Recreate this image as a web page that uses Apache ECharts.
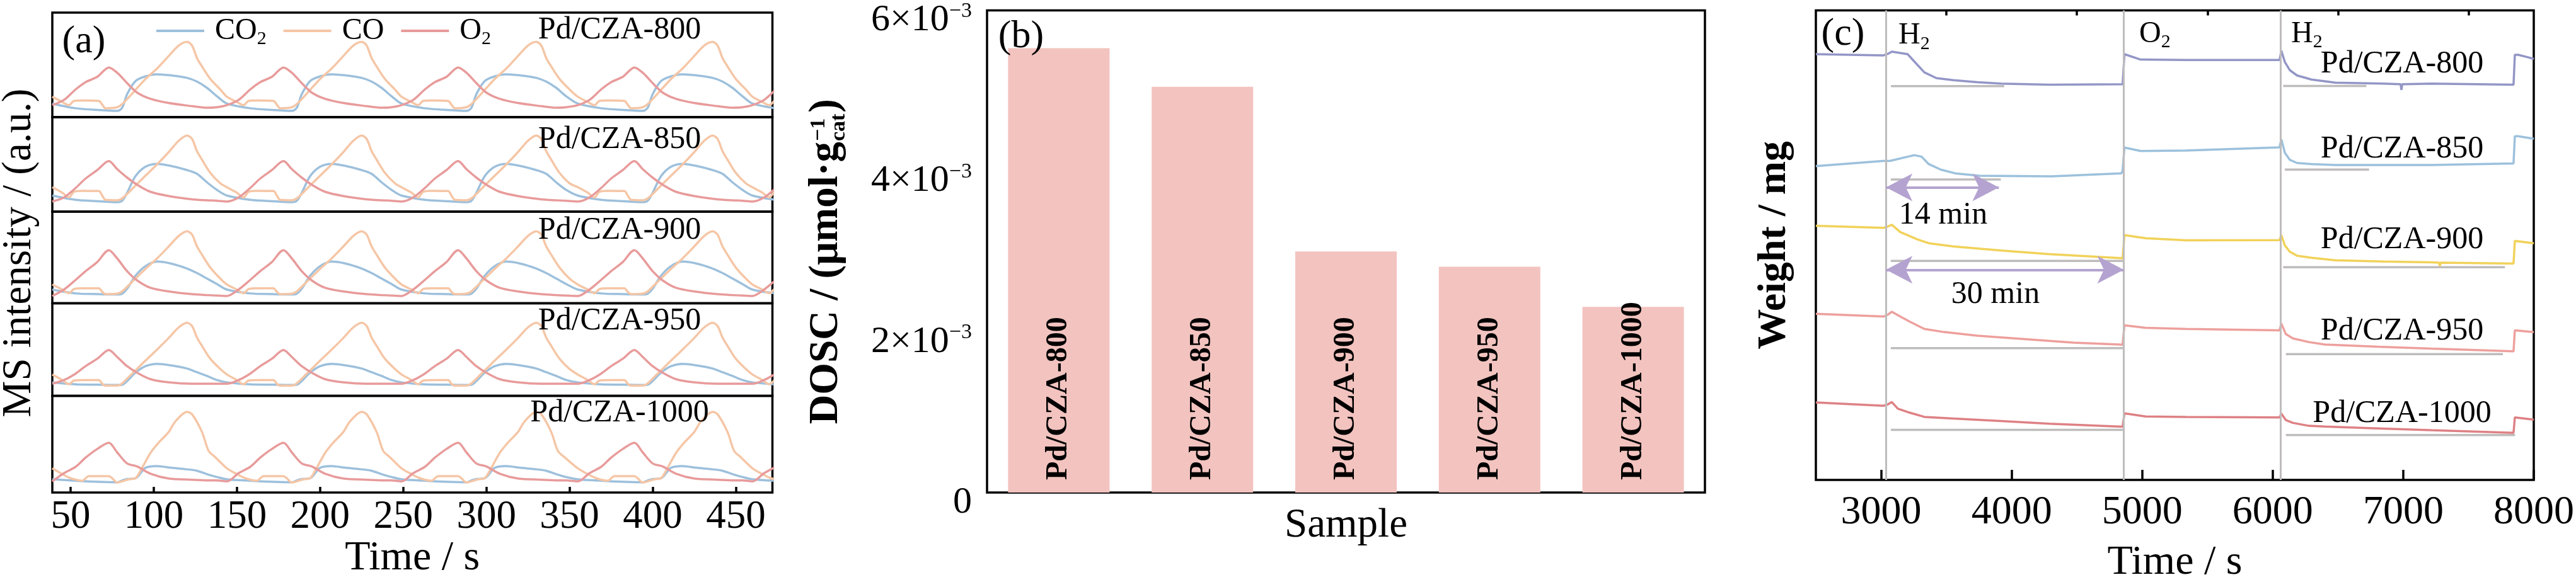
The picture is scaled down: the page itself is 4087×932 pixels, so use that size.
<!DOCTYPE html>
<html>
<head>
<meta charset="utf-8">
<script src="https://cdn.jsdelivr.net/npm/echarts@6/dist/echarts.min.js"></script>
<style>
html, body { margin: 0; padding: 0; background: #fff; }
#chart { width: 4087px; height: 932px; }
</style>
</head>
<body>
<div id="chart"></div>
<script>
// ---------- panel (a): MS signals during the redox pulses ----------
const timeTicksA = [50, 100, 150, 200, 250, 300, 350, 400, 450];

const timeO2 = [
    39, 46, 53, 59, 66, 73, 78, 84, 90, 98, 109, 123, 132, 138,
    144, 151, 158, 164, 171, 178, 183, 189, 195, 203, 214, 228, 237, 243,
    249, 256, 263, 269, 276, 283, 288, 294, 300, 308, 319, 333, 342, 348,
    355, 362, 369, 375, 382, 389, 394, 400, 406, 414, 425, 439, 448, 454,
    460, 467, 474
];
const o2_800 = [
    11.5, 16.5, 26.5, 33.5, 38.5, 47.5, 42.5, 32.5, 23.5, 17.5, 13.5, 10.5, 9, 9.5,
    11.5, 16.5, 26.5, 33.5, 38.5, 47.5, 42.5, 32.5, 23.5, 17.5, 13.5, 10.5, 9, 9.5,
    11.5, 16.5, 26.5, 33.5, 38.5, 47.5, 42.5, 32.5, 23.5, 17.5, 13.5, 10.5, 9, 9.5,
    11.5, 16.5, 26.5, 33.5, 38.5, 47.5, 42.5, 32.5, 23.5, 17.5, 13.5, 10.5, 9, 9.5,
    11.5, 16.5, 26.5
];
const o2_850 = [
    10.7, 15, 25, 35, 44, 53.5, 45, 36, 28.5, 21, 16.5, 13, 12, 11.5,
    10.7, 15, 25, 35, 44, 53.5, 45, 36, 28.5, 21, 16.5, 13, 12, 11.5,
    10.7, 15, 25, 35, 44, 53.5, 45, 36, 28.5, 21, 16.5, 13, 12, 11.5,
    10.7, 15, 25, 35, 44, 53.5, 45, 36, 28.5, 21, 16.5, 13, 12, 11.5,
    10.7, 15, 25
];
const o2_900 = [
    8, 15, 25.5, 35, 45, 58, 49, 35, 25, 17, 13, 10, 9, 8.5,
    8, 15, 25.5, 35, 45, 58, 49, 35, 25, 17, 13, 10, 9, 8.5,
    8, 15, 25.5, 35, 45, 58, 49, 35, 25, 17, 13, 10, 9, 8.5,
    8, 15, 25.5, 35, 45, 58, 49, 35, 25, 17, 13, 10, 9, 8.5,
    8, 15, 25.5
];
const o2_950 = [
    13, 17, 24, 32, 40, 49.5, 42, 32, 25, 18, 14.5, 13, 13, 13,
    13, 17, 24, 32, 40, 49.5, 42, 32, 25, 18, 14.5, 13, 13, 13,
    13, 17, 24, 32, 40, 49.5, 42, 32, 25, 18, 14.5, 13, 13, 13,
    13, 17, 24, 32, 40, 49.5, 42, 32, 25, 18, 14.5, 13, 13, 13,
    13, 17, 24
];
const o2_1000 = [
    11.5, 20, 26.5, 36, 45, 51.5, 41.5, 30, 27, 19.5, 14.5, 13.2, 12.6, 12.5,
    11.5, 20, 26.5, 36, 45, 51.5, 41.5, 30, 27, 19.5, 14.5, 13.2, 12.6, 12.5,
    11.5, 20, 26.5, 36, 45, 51.5, 41.5, 30, 27, 19.5, 14.5, 13.2, 12.6, 12.5,
    11.5, 20, 26.5, 36, 45, 51.5, 41.5, 30, 27, 19.5, 14.5, 13.2, 12.6, 12.5,
    11.5, 20, 26.5
];

const timeCO = [
    39, 45, 49, 52, 57, 67, 69, 71, 78, 81, 87, 95, 102, 109, 115, 120, 123, 126, 129, 134, 140,
    144, 150, 154, 157, 162, 172, 174, 176, 183, 186, 192, 200, 207, 214, 220, 225, 228, 231, 234, 239, 245,
    249, 255, 259, 262, 267, 277, 279, 281, 288, 291, 297, 305, 312, 319, 325, 330, 333, 336, 339, 344, 350,
    355, 361, 365, 368, 373, 383, 385, 387, 394, 397, 403, 411, 418, 425, 431, 436, 439, 442, 445, 450, 456,
    460, 466, 470, 473
];
const co_800 = [
    19.5, 14.5, 11.5, 15.5, 16, 15.5, 12, 8.5, 9.5, 12.5, 22.5, 36.5, 46.5, 58.5, 68.5, 72, 68.5, 56.5, 48.5, 36.5, 26.5,
    19.5, 14.5, 11.5, 15.5, 16, 15.5, 12, 8.5, 9.5, 12.5, 22.5, 36.5, 46.5, 58.5, 68.5, 72, 68.5, 56.5, 48.5, 36.5, 26.5,
    19.5, 14.5, 11.5, 15.5, 16, 15.5, 12, 8.5, 9.5, 12.5, 22.5, 36.5, 46.5, 58.5, 68.5, 72, 68.5, 56.5, 48.5, 36.5, 26.5,
    19.5, 14.5, 11.5, 15.5, 16, 15.5, 12, 8.5, 9.5, 12.5, 22.5, 36.5, 46.5, 58.5, 68.5, 72, 68.5, 56.5, 48.5, 36.5, 26.5,
    19.5, 14.5, 11.5, 15.5
];
const co_850 = [
    25.8, 20, 15, 21, 22, 21.8, 17, 12.5, 12, 14, 24, 38, 50, 63, 75, 80.5, 77, 64, 55, 41, 30,
    25.8, 20, 15, 21, 22, 21.8, 17, 12.5, 12, 14, 24, 38, 50, 63, 75, 80.5, 77, 64, 55, 41, 30,
    25.8, 20, 15, 21, 22, 21.8, 17, 12.5, 12, 14, 24, 38, 50, 63, 75, 80.5, 77, 64, 55, 41, 30,
    25.8, 20, 15, 21, 22, 21.8, 17, 12.5, 12, 14, 24, 38, 50, 63, 75, 80.5, 77, 64, 55, 41, 30,
    25.8, 20, 15, 21
];
const co_900 = [
    20.5, 15, 11, 15.5, 16.3, 16.3, 12.5, 10, 10.5, 13, 23.5, 37.5, 49, 62, 73.5, 78.5, 75, 62, 53, 39, 27,
    20.5, 15, 11, 15.5, 16.3, 16.3, 12.5, 10, 10.5, 13, 23.5, 37.5, 49, 62, 73.5, 78.5, 75, 62, 53, 39, 27,
    20.5, 15, 11, 15.5, 16.3, 16.3, 12.5, 10, 10.5, 13, 23.5, 37.5, 49, 62, 73.5, 78.5, 75, 62, 53, 39, 27,
    20.5, 15, 11, 15.5, 16.3, 16.3, 12.5, 10, 10.5, 13, 23.5, 37.5, 49, 62, 73.5, 78.5, 75, 62, 53, 39, 27,
    20.5, 15, 11, 15.5
];
const co_950 = [
    23, 17, 12.5, 16.5, 17, 17, 13, 11, 11, 13.5, 24, 38, 50, 62.5, 74, 79, 75.5, 63, 54, 40, 29,
    23, 17, 12.5, 16.5, 17, 17, 13, 11, 11, 13.5, 24, 38, 50, 62.5, 74, 79, 75.5, 63, 54, 40, 29,
    23, 17, 12.5, 16.5, 17, 17, 13, 11, 11, 13.5, 24, 38, 50, 62.5, 74, 79, 75.5, 63, 54, 40, 29,
    23, 17, 12.5, 16.5, 17, 17, 13, 11, 11, 13.5, 24, 38, 50, 62.5, 74, 79, 75.5, 63, 54, 40, 29,
    23, 17, 12.5, 16.5
];
const timeCO1000 = [
    39, 45, 50, 57, 61, 73, 75, 78, 85, 89, 92, 98, 103, 109, 113, 120, 123, 129, 133, 137,
    144, 150, 155, 162, 166, 178, 180, 183, 190, 194, 197, 203, 208, 214, 218, 225, 228, 234, 238, 242,
    249, 255, 260, 267, 271, 283, 285, 288, 295, 299, 302, 308, 313, 319, 323, 330, 333, 339, 343, 347,
    355, 361, 366, 373, 377, 389, 391, 394, 401, 405, 408, 414, 419, 425, 429, 436, 439, 445, 449, 453,
    460, 466, 471, 478
];
const co_1000 = [
    25, 19, 14.8, 12.2, 17, 17, 14.8, 10.4, 13.7, 14.8, 22.4, 40.9, 51.7, 62.6, 73.5, 83.3, 81, 62.6, 43, 36.5,
    25, 19, 14.8, 12.2, 17, 17, 14.8, 10.4, 13.7, 14.8, 22.4, 40.9, 51.7, 62.6, 73.5, 83.3, 81, 62.6, 43, 36.5,
    25, 19, 14.8, 12.2, 17, 17, 14.8, 10.4, 13.7, 14.8, 22.4, 40.9, 51.7, 62.6, 73.5, 83.3, 81, 62.6, 43, 36.5,
    25, 19, 14.8, 12.2, 17, 17, 14.8, 10.4, 13.7, 14.8, 22.4, 40.9, 51.7, 62.6, 73.5, 83.3, 81, 62.6, 43, 36.5,
    25, 19, 14.8, 12.2
];

const timeCO2 = [
    39, 53, 67, 78, 81, 84, 89, 95, 102, 110, 120, 126, 132, 138,
    144, 158, 172, 183, 186, 189, 194, 200, 207, 215, 225, 231, 237, 243,
    249, 263, 277, 288, 291, 294, 299, 305, 312, 320, 330, 336, 342, 348,
    355, 369, 383, 394, 397, 400, 405, 411, 418, 426, 436, 442, 448, 454,
    460, 474
];
const co2_800 = [
    13, 8.5, 6.8, 6, 9, 22, 34.5, 39, 41, 40, 37.6, 34, 28, 20,
    13, 8.5, 6.8, 6, 9, 22, 34.5, 39, 41, 40, 37.6, 34, 28, 20,
    13, 8.5, 6.8, 6, 9, 22, 34.5, 39, 41, 40, 37.6, 34, 28, 20,
    13, 8.5, 6.8, 6, 9, 22, 34.5, 39, 41, 40, 37.6, 34, 28, 20,
    13, 8.5
];
const co2_850 = [
    17, 12.5, 11, 10, 11.5, 20, 37.5, 47.5, 50.5, 48.5, 44, 40, 31, 23,
    17, 12.5, 11, 10, 11.5, 20, 37.5, 47.5, 50.5, 48.5, 44, 40, 31, 23,
    17, 12.5, 11, 10, 11.5, 20, 37.5, 47.5, 50.5, 48.5, 44, 40, 31, 23,
    17, 12.5, 11, 10, 11.5, 20, 37.5, 47.5, 50.5, 48.5, 44, 40, 31, 23,
    17, 12.5
];
const co2_900 = [
    15, 10.8, 10, 9.6, 10.5, 16, 30, 40.5, 45.5, 43.5, 38, 33, 27, 21,
    15, 10.8, 10, 9.6, 10.5, 16, 30, 40.5, 45.5, 43.5, 38, 33, 27, 21,
    15, 10.8, 10, 9.6, 10.5, 16, 30, 40.5, 45.5, 43.5, 38, 33, 27, 21,
    15, 10.8, 10, 9.6, 10.5, 16, 30, 40.5, 45.5, 43.5, 38, 33, 27, 21,
    15, 10.8
];
const co2_950 = [
    14.5, 12.3, 12, 11.6, 12, 16, 25, 32, 34.5, 33, 29.5, 25.5, 21.5, 17,
    14.5, 12.3, 12, 11.6, 12, 16, 25, 32, 34.5, 33, 29.5, 25.5, 21.5, 17,
    14.5, 12.3, 12, 11.6, 12, 16, 25, 32, 34.5, 33, 29.5, 25.5, 21.5, 17,
    14.5, 12.3, 12, 11.6, 12, 16, 25, 32, 34.5, 33, 29.5, 25.5, 21.5, 17,
    14.5, 12.3
];
const co2_1000 = [
    13.7, 12.2, 11, 10.6, 12.5, 14, 14.7, 25.6, 27.4, 25.7, 24, 22.5, 19, 16,
    13.7, 12.2, 11, 10.6, 12.5, 14, 14.7, 25.6, 27.4, 25.7, 24, 22.5, 19, 16,
    13.7, 12.2, 11, 10.6, 12.5, 14, 14.7, 25.6, 27.4, 25.7, 24, 22.5, 19, 16,
    13.7, 12.2, 11, 10.6, 12.5, 14, 14.7, 25.6, 27.4, 25.7, 24, 22.5, 19, 16,
    13.7, 12.2
];

// ---------- panel (b): DOSC per sample ----------
const samples = ["Pd/CZA-800", "Pd/CZA-850", "Pd/CZA-900", "Pd/CZA-950", "Pd/CZA-1000"];
const dosc = [5.53e-3, 5.05e-3, 3.00e-3, 2.81e-3, 2.31e-3];

// ---------- panel (c): TGA weight traces (offset, arbitrary units) ----------
const timeTicksC = [3000, 4000, 5000, 6000, 7000, 8000];
const minorTicksC = [3500, 4500, 5500, 6500, 7500];
const switchTimes = [3037, 4860, 6060];
const switchGas = ["H", "O", "H"];

const w800 = [[2500, 688.7], [3018, 686.7], [3050, 689], [3082, 692.7], [3203, 688.7], [3258, 676], [3331, 659.3],
    [3423, 650], [3552, 646.7], [3737, 643.3], [3920, 641], [4289, 639.3], [4850, 640], [4864, 688.7], [4988, 680],
    [5335, 679.3], [6052, 679.3], [6066, 694.3], [6093, 676], [6130, 663], [6186, 654.3], [6296, 647.7], [6480, 642.7],
    [6849, 641], [6980, 640], [6986, 631], [6992, 640], [7217, 641], [7845, 639.3], [7855, 687.7], [7880, 687.7],
    [7950, 684], [8000, 681]];
const w850 = [[2500, 507.7], [3018, 516], [3067, 516], [3254, 525.3], [3309, 523], [3364, 511], [3456, 502],
    [3566, 496], [3751, 492], [4304, 491], [4840, 496], [4850, 500], [4864, 537.7], [4988, 532], [5335, 532.7],
    [6052, 538], [6066, 551], [6093, 529.3], [6130, 518], [6186, 512.7], [6296, 511], [6480, 509.3], [7217, 509.3],
    [7845, 512], [7855, 556], [7880, 556], [8000, 552]];
const w900 = [[2500, 411], [3018, 407.7], [3050, 410], [3082, 412.7], [3146, 401], [3275, 389.3], [3368, 382.7],
    [3552, 377.7], [3920, 371], [4289, 365.3], [4657, 361], [4850, 358.7], [4864, 396], [5026, 391], [5335, 387.7],
    [6052, 388], [6066, 396], [6093, 379.3], [6130, 369.3], [6186, 362.7], [6296, 359.3], [6480, 355.3], [6849, 353.3],
    [7217, 352], [7274, 351.5], [7280, 346], [7287, 351.5], [7845, 350], [7855, 386.7], [8000, 382.7]];
const w950 = [[2500, 268.7], [3018, 264.3], [3050, 267], [3082, 272], [3146, 264.3], [3220, 256], [3331, 244.3],
    [3478, 239.3], [3737, 233.3], [4105, 227.7], [4473, 222], [4850, 218.7], [4864, 250], [5026, 246], [5335, 244.3],
    [6052, 242], [6066, 253], [6100, 236], [6154, 229], [6277, 223], [6399, 219], [6806, 215.4], [7214, 212.4],
    [7845, 208.2], [7855, 242], [8000, 239.1]];
const w1000 = [[2500, 125.3], [3018, 120], [3050, 122], [3082, 126], [3128, 115.3], [3220, 108.7], [3331, 102],
    [3552, 99.3], [3920, 95.3], [4289, 91], [4850, 86], [4864, 107.7], [5026, 102.7], [5335, 102], [6052, 101.2],
    [6066, 107.2], [6100, 97], [6154, 92.3], [6277, 87.5], [6399, 86.3], [6806, 83.4], [7214, 80.4], [7845, 76.2],
    [7855, 101.2], [8000, 97.6]];
// baseline guides: [start, end, level]
const refLines = [[3075, 3943, 637], [6080, 6718, 637.3], [3074, 3917, 486], [6093, 6738, 502],
    [3074, 4860, 354.3], [6080, 7779, 344], [3074, 4860, 213.3], [6101, 7764, 203.5],
    [3075, 4860, 81], [6101, 7857, 72.7]];
// duration arrows: [start, end, level]
const spans = [[3037, 3902, 473.3], [3037, 4859, 340]];
const spanText = ["14 min", "30 min"];

const FONT = '"Liberation Serif", "Times New Roman", serif';
const BLACK = "#000";

const colorsA = { CO2: "#9dc0dc", CO: "#f5c6a6", O2: "#e89b9b" };
const colorsC = ["#9396c6", "#9cc1dc", "#f1d25a", "#eda09d", "#de8184"];
const GUIDE = "#bfbcbc";
const ARROW = "#b4a3d0";

const chart = echarts.init(document.getElementById("chart"), null, { renderer: "canvas" });

const grids = [];
const xAxes = [];
const yAxes = [];
const series = [];

// panel (a) stacked sub-plots
const aTop = [20, 186, 336, 481.6, 628.4];
const aBot = [186, 336, 481.6, 628.4, 782];
const panelA = [
    { co2: co2_800, co: co_800, coTime: timeCO, o2: o2_800 },
    { co2: co2_850, co: co_850, coTime: timeCO, o2: o2_850 },
    { co2: co2_900, co: co_900, coTime: timeCO, o2: o2_900 },
    { co2: co2_950, co: co_950, coTime: timeCO, o2: o2_950 },
    { co2: co2_1000, co: co_1000, coTime: timeCO1000, o2: o2_1000 }
];

const pair = (times, values) => times.map((t, i) => [t, values[i]]);

panelA.forEach((p, i) => {
    const last = i === 4;
    grids.push({
        left: 83, top: aTop[i], width: 1142.5, height: aBot[i] - aTop[i],
        show: true, borderColor: BLACK, borderWidth: 3.5
    });
    xAxes.push({
        type: "value", gridIndex: i, min: 39, max: 472,
        axisLine: { show: false },
        splitLine: { show: false },
        axisTick: {
            show: last, inside: true, length: 9, customValues: timeTicksA,
            lineStyle: { color: BLACK, width: 3.5 }
        },
        axisLabel: {
            show: last, customValues: timeTicksA, margin: 8,
            fontSize: 63, fontFamily: FONT, color: BLACK
        },
        name: last ? "Time / s" : "",
        nameLocation: "middle", nameGap: 72,
        nameTextStyle: { fontSize: 66, fontFamily: FONT, color: BLACK }
    });
    yAxes.push({ type: "value", gridIndex: i, min: 0, max: 100, show: false });

    const common = {
        type: "line", xAxisIndex: i, yAxisIndex: i, symbol: "none",
        smooth: 0.3, silent: true, lineStyle: { width: 3.5 }
    };
    series.push({ ...common, name: "CO2", color: colorsA.CO2, data: pair(timeCO2, p.co2) });
    series.push({ ...common, name: "CO", color: colorsA.CO, data: pair(p.coTime, p.co) });
    series.push({ ...common, name: "O2", color: colorsA.O2, data: pair(timeO2, p.o2) });
});

// panel (b)
grids.push({ left: 1566, top: 16.6, width: 1139, height: 765.4, show: true, borderColor: BLACK, borderWidth: 3.5 });
xAxes.push({
    type: "category", gridIndex: 5, data: samples,
    axisLine: { show: false }, axisTick: { show: false }, axisLabel: { show: false },
    name: "Sample", nameLocation: "middle", nameGap: 20,
    nameTextStyle: { fontSize: 65, fontFamily: FONT, color: BLACK }
});
yAxes.push({
    type: "value", gridIndex: 5, min: 0, max: 0.006, interval: 0.002,
    axisLine: { show: false }, splitLine: { show: false },
    axisTick: { inside: true, length: 18, lineStyle: { color: BLACK, width: 3.5 } },
    axisLabel: {
        margin: 24,
        padding: [32, 0, 0, 0],
        formatter: v => v === 0 ? "{m|0}" : `{m|${Math.round(v * 1000)}×10}{e|−3}`,
        rich: {
            m: { fontSize: 60, fontFamily: FONT, color: BLACK, lineHeight: 64 },
            e: { fontSize: 34, fontFamily: FONT, color: BLACK, lineHeight: 34, verticalAlign: "top" }
        }
    }
});
series.push({
    type: "bar", xAxisIndex: 5, yAxisIndex: 5, data: dosc, barWidth: 161, silent: true,
    itemStyle: { color: "#f2c3bf" },
    label: {
        show: true, position: "insideBottom", distance: 20, rotate: 90,
        align: "left", verticalAlign: "middle", formatter: "{b}",
        fontSize: 48, fontWeight: "bold", fontFamily: FONT, color: BLACK
    }
});

// panel (c)
grids.push({ left: 2881, top: 16.6, width: 1142.6, height: 759.4, show: true, borderColor: BLACK, borderWidth: 3.5 });
xAxes.push({
    type: "value", gridIndex: 6, min: 2500, max: 8000,
    axisLine: { show: false }, splitLine: { show: false },
    axisTick: { inside: true, length: 16, customValues: timeTicksC, lineStyle: { color: BLACK, width: 3.5 } },
    axisLabel: {
        customValues: timeTicksC, margin: 20, formatter: v => String(v),
        fontSize: 64, fontFamily: FONT, color: BLACK
    },
    name: "Time / s", nameLocation: "middle", nameGap: 99,
    nameTextStyle: { fontSize: 66, fontFamily: FONT, color: BLACK }
});
xAxes.push({
    type: "value", gridIndex: 6, min: 2500, max: 8000,
    axisLine: { show: false }, splitLine: { show: false }, axisLabel: { show: false },
    axisTick: { inside: true, length: 8, customValues: minorTicksC, lineStyle: { color: BLACK, width: 3.5 } }
});
yAxes.push({
    type: "value", gridIndex: 6, min: 0, max: 759.4,
    axisLine: { show: false }, axisTick: { show: false }, axisLabel: { show: false }, splitLine: { show: false },
    name: "Weight / mg", nameLocation: "middle", nameGap: 34,
    nameTextStyle: { fontSize: 64, fontWeight: "bold", fontFamily: FONT, color: BLACK }
});

refLines.forEach(([x0, x1, y], k) => {
    const s = {
        type: "line", xAxisIndex: 6, yAxisIndex: 6, symbol: "none", silent: true,
        color: GUIDE, lineStyle: { width: 3.5 }, data: [[x0, y], [x1, y]], z: 1
    };
    if (k === 0) {
        s.markLine = {
            silent: true, symbol: "none", label: { show: false },
            lineStyle: { color: GUIDE, width: 3, type: "solid" },
            data: switchTimes.map(t => ({ xAxis: t }))
        };
    }
    if (k === 1) {
        s.markLine = {
            silent: true, symbol: ["arrow", "arrow"], symbolSize: [33, 42], label: { show: false },
            lineStyle: { color: ARROW, width: 4, type: "solid" },
            data: spans.map(([a, b, y]) => [{ coord: [a, y] }, { coord: [b, y] }])
        };
    }
    series.push(s);
});
[w800, w850, w900, w950, w1000].forEach((d, k) => {
    series.push({
        type: "line", xAxisIndex: 6, yAxisIndex: 6, symbol: "none", silent: true,
        color: colorsC[k], lineStyle: { width: 3.5 }, data: d, z: 3
    });
});

// ---------- free text ----------
const txt = (x, y, text, size, extra) => ({
    type: "text", x, y, silent: true, z: 100,
    style: Object.assign({
        text, font: `${size}px ${FONT}`, fill: BLACK,
        textAlign: "center", align: "center", textVerticalAlign: "middle", verticalAlign: "middle"
    }, extra || {})
});
const subText = (x, y, main, sub) => ({
    type: "text", x, y, silent: true, z: 100,
    style: {
        text: `{m|${main}}{s|${sub}}`, fill: BLACK,
        textAlign: "left", align: "left", textVerticalAlign: "middle", verticalAlign: "middle",
        rich: {
            m: { fontSize: 48, fontFamily: FONT, fill: BLACK, color: BLACK, lineHeight: 56 },
            s: { fontSize: 30, fontFamily: FONT, fill: BLACK, color: BLACK, lineHeight: 24, verticalAlign: "bottom" }
        }
    }
});

const measure = document.createElement("canvas").getContext("2d");
const widthOf = (str, font) => { measure.font = font; return measure.measureText(str).width; };
const fMain = `bold 65px ${FONT}`;
const fSmall = `bold 34px ${FONT}`;
const nameMain = "DOSC / (μmol·g";
const w1 = widthOf(nameMain, fMain);
const w2 = Math.max(widthOf("−1", fSmall), widthOf("cat", fSmall));
const w3 = widthOf(")", fMain);
const x0 = -(w1 + w2 + w3 + 4) / 2;
const part = (x, y, text, font) => ({
    type: "text", silent: true,
    style: { x, y, text, font, fill: BLACK, textAlign: "left", align: "left", textVerticalAlign: "middle", verticalAlign: "middle" }
});

const aLabelY = [47.6, 221.6, 366, 510, 655.5];
const cLabelY = [102, 236.6, 380.5, 526, 657];
const gasX = [3012, 3394, 3635];
const gasY = [56.7, 54, 54];

const graphics = [
    txt(133, 67, "(a)", 62),
    txt(1620, 59, "(b)", 62),
    txt(2924, 55, "(c)", 62),
    txt(31, 401.5, "MS intensity / (a.u.)", 65, {}),
    {
        type: "group", x: 1311, y: 414.8, rotation: Math.PI / 2, silent: true, z: 100,
        children: [
            part(x0, 0, nameMain, fMain),
            part(x0 + w1 + 1, -12, "−1", fSmall),
            part(x0 + w1 + 1, 20, "cat", fSmall),
            part(x0 + w1 + w2 + 3, 0, ")", fMain)
        ]
    },
    txt(3083, 341.7, spanText[0], 50),
    txt(3166, 467.5, spanText[1], 50)
];
graphics[3].rotation = Math.PI / 2;
samples.forEach((s, i) => {
    graphics.push(txt(983, aLabelY[i], s, 50));
    graphics.push(txt(3811, cLabelY[i], s, 50));
});
switchGas.forEach((g, i) => graphics.push(subText(gasX[i], gasY[i], g, "2")));

chart.setOption({
    animation: false,
    backgroundColor: "#fff",
    textStyle: { fontFamily: FONT },
    legend: {
        data: ["CO2", "CO", "O2"],
        left: 243, top: 20,
        icon: "rect", itemWidth: 76, itemHeight: 4, itemGap: 27,
        selectedMode: false,
        formatter: name => name === "CO2" ? "{n| CO}{s|2}" : name === "O2" ? "{n| O}{s|2}" : "{n| CO}",
        textStyle: {
            rich: {
                n: { fontSize: 48, fontFamily: FONT, color: BLACK, lineHeight: 56 },
                s: { fontSize: 30, fontFamily: FONT, color: BLACK, lineHeight: 24, verticalAlign: "bottom" }
            }
        }
    },
    grid: grids,
    xAxis: xAxes,
    yAxis: yAxes,
    series: series,
    graphic: graphics
});
</script>
</body>
</html>
